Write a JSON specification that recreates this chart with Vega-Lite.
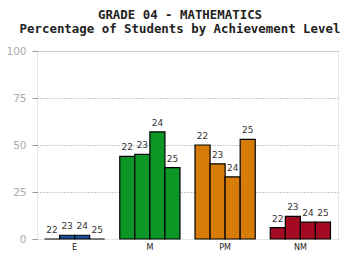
{
  "$schema": "https://vega.github.io/schema/vega-lite/v6.json",
  "autosize": {"type": "none"},
  "padding": {"left": 37, "top": 51, "right": 22, "bottom": 21},
  "width": 301,
  "height": 188,
  "background": "white",
  "title": {
    "text": ["GRADE 04 - MATHEMATICS", "Percentage of Students by Achievement Level"],
    "font": "DejaVu Sans Mono",
    "fontSize": 12.4,
    "fontWeight": "bold",
    "color": "#222222",
    "lineHeight": 13.5,
    "anchor": "middle",
    "dx": -7.5,
    "offset": 11
  },
  "data": {
    "values": [
      {"level": "E", "year": "22", "value": 0},
      {"level": "E", "year": "23", "value": 2},
      {"level": "E", "year": "24", "value": 2},
      {"level": "E", "year": "25", "value": 0},
      {"level": "M", "year": "22", "value": 44},
      {"level": "M", "year": "23", "value": 45},
      {"level": "M", "year": "24", "value": 57},
      {"level": "M", "year": "25", "value": 38},
      {"level": "PM", "year": "22", "value": 50},
      {"level": "PM", "year": "23", "value": 40},
      {"level": "PM", "year": "24", "value": 33},
      {"level": "PM", "year": "25", "value": 53},
      {"level": "NM", "year": "22", "value": 6},
      {"level": "NM", "year": "23", "value": 12},
      {"level": "NM", "year": "24", "value": 9},
      {"level": "NM", "year": "25", "value": 9}
    ]
  },
  "encoding": {
    "x": {
      "field": "level", "type": "nominal", "sort": ["E", "M", "PM", "NM"],
      "scale": {"paddingInner": 0.2, "paddingOuter": 0.1},
      "axis": {"title": null, "labelAngle": 0, "ticks": false, "domain": true, "domainColor": "#e6e6e6",
               "labelFont": "DejaVu Sans", "labelFontSize": 8, "labelColor": "#222222", "labelPadding": 4}
    },
    "xOffset": {"field": "year", "type": "nominal", "scale": {"paddingInner": 0, "paddingOuter": 0}},
    "y": {
      "field": "value", "type": "quantitative",
      "scale": {"domain": [0, 100], "nice": false},
      "axis": {"title": null, "values": [0, 25, 50, 75, 100], "domain": false,
               "tickColor": "#999999", "tickSize": 5, "labelPadding": 6,
               "labelFont": "DejaVu Sans", "labelFontSize": 10.5, "labelColor": "#aaaaaa",
               "grid": true, "gridColor": "#999999", "gridDash": [1, 2], "gridWidth": 1}
    }
  },
  "layer": [
    {
      "mark": {"type": "bar", "stroke": "black", "strokeWidth": 1.2},
      "encoding": {
        "color": {
          "field": "level", "type": "nominal", "legend": null,
          "scale": {"domain": ["E", "M", "PM", "NM"], "range": ["#1a4f9c", "#0b9626", "#d87c09", "#a50a23"]}
        }
      }
    },
    {
      "mark": {"type": "text", "baseline": "bottom", "dy": -4, "font": "DejaVu Sans", "fontSize": 9, "color": "#333333"},
      "encoding": {"text": {"field": "year"}}
    }
  ],
  "config": {
    "view": {"stroke": "#e6e6e6"}
  }
}
